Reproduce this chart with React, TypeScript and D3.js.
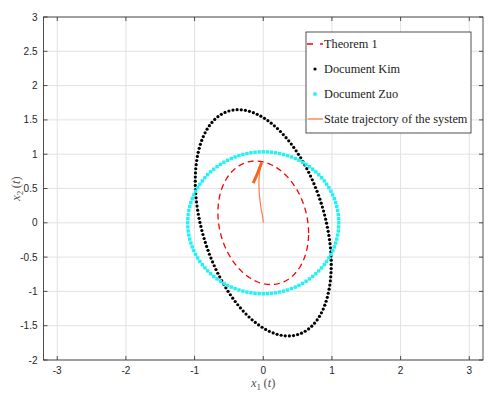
import React from "react";
import * as d3 from "d3";

// Axis ticks
const xTicks = [-3, -2, -1, 0, 1, 2, 3];
const yTicks = [-2, -1.5, -1, -0.5, 0, 0.5, 1, 1.5, 2, 2.5, 3];

// Ellipse level sets {x : x' S^-1 x = 1}; shape matrix entries [Sxx, Sxy, Syy]
const theoremShape = [0.436, -0.1, 0.81];
const kimShape = [0.98, -0.6, 2.72];
const zuoShape = [1.21, 0, 1.07];
const kimCount = 138;
const zuoCount = 112;

// State trajectory (x1, x2)
const trajX1 = [0, -0.01, -0.03, -0.048, -0.06, -0.063, -0.058, -0.048, -0.035, -0.023];
const trajX2 = [0, 0.1, 0.2, 0.33, 0.46, 0.58, 0.68, 0.77, 0.84, 0.878];
const trajTailX1 = [-0.023, -0.08, -0.146];
const trajTailX2 = [0.878, 0.73, 0.578];

const legendLabels = ["Theorem 1", "Document Kim", "Document Zuo", "State trajectory of the system"];

const W = 498;
const H = 399;
const L = 43.5, R = 483, T = 17, B = 360;

// boundary of the ellipse, densely traced
function ellipseBoundary(S: number[], n: number): [number, number][] {
  const [a, b, c] = S;
  const l11 = Math.sqrt(a);
  const l21 = b / l11;
  const l22 = Math.sqrt(c - l21 * l21);
  return d3.range(n).map((i) => {
    const t = (2 * Math.PI * i) / n;
    return [l11 * Math.cos(t), l21 * Math.cos(t) + l22 * Math.sin(t)];
  });
}

// markers placed at equal spacing along the boundary
function evenMarkers(S: number[], count: number): [number, number][] {
  const pts = ellipseBoundary(S, 4000);
  pts.push(pts[0]);
  const cum = [0];
  for (let i = 1; i < pts.length; i++) {
    cum.push(cum[i - 1] + Math.hypot(pts[i][0] - pts[i - 1][0], pts[i][1] - pts[i - 1][1]));
  }
  const total = cum[cum.length - 1];
  const out: [number, number][] = [];
  let j = 1;
  for (let k = 0; k < count; k++) {
    const s = (total * k) / count;
    while (cum[j] < s) j++;
    const f = (s - cum[j - 1]) / (cum[j] - cum[j - 1] || 1);
    out.push([
      pts[j - 1][0] + f * (pts[j][0] - pts[j - 1][0]),
      pts[j - 1][1] + f * (pts[j][1] - pts[j - 1][1]),
    ]);
  }
  return out;
}

export default function App() {
  const x = d3.scaleLinear().domain([-3.2, 3.2]).range([L, R]);
  const y = d3.scaleLinear().domain([-2, 3]).range([B, T]);

  const line = d3
    .line<[number, number]>()
    .x((d) => x(d[0]))
    .y((d) => y(d[1]));

  const theoremPath = line.curve(d3.curveLinearClosed)(ellipseBoundary(theoremShape, 300)) || "";
  const kimPts = evenMarkers(kimShape, kimCount);
  const zuoPts = evenMarkers(zuoShape, zuoCount);

  const trajLine = d3
    .line<[number, number]>()
    .x((d) => x(d[0]))
    .y((d) => y(d[1]))
    .curve(d3.curveCatmullRom);
  const trajPath = trajLine(trajX1.map((v, i) => [v, trajX2[i]] as [number, number])) || "";
  const tailPath = trajLine(trajTailX1.map((v, i) => [v, trajTailX2[i]] as [number, number])) || "";

  const axisColor = "#262626";
  const gridColor = "#e2e2e2";
  const tickLen = 4;
  const sans = "'Liberation Sans', Arial, sans-serif";
  const serif = "'Liberation Serif', 'DejaVu Serif', serif";

  const lgX = 306, lgY = 32, lgW = 165, lgH = 101;
  const rowY = [44, 69, 94, 119];

  return (
    <svg
      width={W}
      height={H}
      style={{ position: "absolute", left: 0, top: 0, background: "#fff" }}
    >
      <rect x={0} y={0} width={W} height={H} fill="#fff" />
      {/* grid */}
      <g>
        {xTicks.map((t) => (
          <line key={"gx" + t} x1={x(t)} x2={x(t)} y1={T} y2={B} stroke={gridColor} strokeWidth={1} />
        ))}
        {yTicks.map((t) => (
          <line key={"gy" + t} x1={L} x2={R} y1={y(t)} y2={y(t)} stroke={gridColor} strokeWidth={1} />
        ))}
      </g>

      {/* Document Kim */}
      <g>
        {kimPts.map((p, i) => (
          <circle key={"k" + i} cx={x(p[0])} cy={y(p[1])} r={1.6} fill="#000" />
        ))}
      </g>
      {/* Document Zuo */}
      <g>
        {zuoPts.map((p, i) => (
          <rect
            key={"z" + i}
            x={x(p[0]) - 1.7}
            y={y(p[1]) - 1.7}
            width={3.4}
            height={3.4}
            fill="#22f2f2"
          />
        ))}
      </g>
      {/* Theorem 1 */}
      <path d={theoremPath} fill="none" stroke="#ff0000" strokeWidth={1.3} strokeDasharray="6,4" />
      {/* trajectory */}
      <path d={trajPath} fill="none" stroke="#ff7f45" strokeWidth={1.2} />
      <path d={tailPath} fill="none" stroke="#f26522" strokeWidth={3} />

      {/* frame */}
      <rect x={L} y={T} width={R - L} height={B - T} fill="none" stroke={axisColor} strokeWidth={0.8} />
      {/* ticks */}
      <g stroke={axisColor} strokeWidth={0.8}>
        {xTicks.map((t) => (
          <g key={"tx" + t}>
            <line x1={x(t)} x2={x(t)} y1={B} y2={B - tickLen} />
            <line x1={x(t)} x2={x(t)} y1={T} y2={T + tickLen} />
          </g>
        ))}
        {yTicks.map((t) => (
          <g key={"ty" + t}>
            <line x1={L} x2={L + tickLen} y1={y(t)} y2={y(t)} />
            <line x1={R} x2={R - tickLen} y1={y(t)} y2={y(t)} />
          </g>
        ))}
      </g>
      {/* tick labels */}
      <g fontFamily={sans} fontSize={10} fill={axisColor}>
        {xTicks.map((t) => (
          <text key={"lx" + t} x={x(t)} y={374} textAnchor="middle">
            {String(t)}
          </text>
        ))}
        {yTicks.map((t) => (
          <text key={"ly" + t} x={37.5} y={y(t) + 3.5} textAnchor="end">
            {String(t)}
          </text>
        ))}
      </g>
      {/* axis labels */}
      <text x={x(0)} y={387} textAnchor="middle" fontFamily={serif} fontSize={12.5} fill="#555">
        <tspan fontStyle="italic">x</tspan>
        <tspan fontSize={9} dy={2.5}>1</tspan>
        <tspan dy={-2.5} dx={2.5}>(</tspan>
        <tspan fontStyle="italic">t</tspan>
        <tspan>)</tspan>
      </text>
      <text
        transform={`translate(20, ${(T + B) / 2}) rotate(-90)`}
        textAnchor="middle"
        fontFamily={serif}
        fontSize={12.5}
        fill="#555"
      >
        <tspan fontStyle="italic">x</tspan>
        <tspan fontSize={9} dy={2.5}>2</tspan>
        <tspan dy={-2.5} dx={2.5}>(</tspan>
        <tspan fontStyle="italic">t</tspan>
        <tspan>)</tspan>
      </text>

      {/* legend */}
      <g>
        <rect x={lgX} y={lgY} width={lgW} height={lgH} fill="#fff" stroke={axisColor} strokeWidth={0.8} />
        <line x1={307} x2={323} y1={rowY[0]} y2={rowY[0]} stroke="#ff0000" strokeWidth={1.3} strokeDasharray="6,7" />
        <circle cx={315} cy={rowY[1]} r={1.6} fill="#000" />
        <rect x={315 - 1.7} y={rowY[2] - 1.7} width={3.4} height={3.4} fill="#22f2f2" />
        <line x1={307.5} x2={323} y1={rowY[3]} y2={rowY[3]} stroke="#ff8a5a" strokeWidth={1.5} />
        {legendLabels.map((s, i) => (
          <text key={"lg" + i} x={324} y={rowY[i] + 4} fontFamily={serif} fontSize={12.3} fill="#222">
            {s}
          </text>
        ))}
      </g>
    </svg>
  );
}
